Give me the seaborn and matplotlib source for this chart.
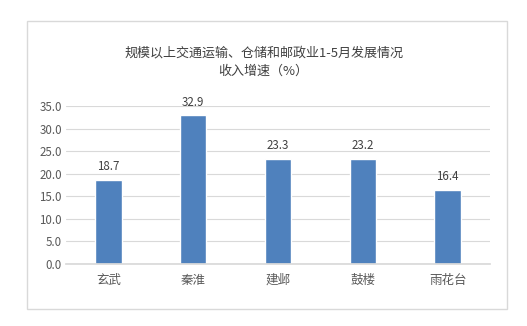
import matplotlib
matplotlib.use("Agg")
import matplotlib.pyplot as plt
import seaborn as sns
import pandas as pd
from matplotlib.patches import Rectangle

categories = ["玄武", "秦淮", "建邺", "鼓楼", "雨花台"]
values = [18.7, 32.9, 23.3, 23.2, 16.4]
yticks = [0, 5, 10, 15, 20, 25, 30, 35]
title = "规模以上交通运输、仓储和邮政业1-5月发展情况\n收入增速（%）"

sns.set_theme(style="white")
plt.rcParams['font.family'] = ['Noto Sans CJK SC', 'DejaVu Sans']

W, H = 527, 326
fig = plt.figure(figsize=(W / 100, H / 100), dpi=100)
fig.patch.set_facecolor("white")

# outer border
fig.patches.append(Rectangle((27 / W, 1 - 309 / H), 480 / W, 288 / H,
                             transform=fig.transFigure, fill=False,
                             edgecolor="#D9D9D9", linewidth=1.0))

ax = fig.add_axes([66 / W, 1 - 264 / H, 424 / W, 158 / H])
df = pd.DataFrame({"cat": categories, "val": values})
sns.barplot(data=df, x="cat", y="val", color="#4F81BD", saturation=1,
            width=0.31, ax=ax)
ax.set_ylim(0, 35)
ax.set_xlim(-0.5, 4.5)
ax.set_yticks(yticks)
ax.set_yticklabels([f"{v:.1f}" for v in yticks], fontsize=8.3, color="#595959")
ax.tick_params(axis="x", labelsize=9, colors="#595959", length=0, pad=7)
ax.tick_params(axis="y", length=0, pad=3)
ax.grid(axis="y", color="#D9D9D9", linewidth=0.8)
ax.set_axisbelow(True)
for s in ["top", "right", "left"]:
    ax.spines[s].set_visible(False)
ax.spines["bottom"].set_color("#D9D9D9")
ax.set_xlabel("")
ax.set_ylabel("")
for i, v in enumerate(values):
    ax.annotate(f"{v:.1f}", (i, v), xytext=(0, 5), textcoords="offset points",
                ha="center", va="bottom", fontsize=8.3, color="#404040")

fig.text(0.5, 1 - 62 / H, title, ha="center", va="center", fontsize=9.4,
         color="#404040", linespacing=1.45)

fig.savefig("out.png", dpi=100)
